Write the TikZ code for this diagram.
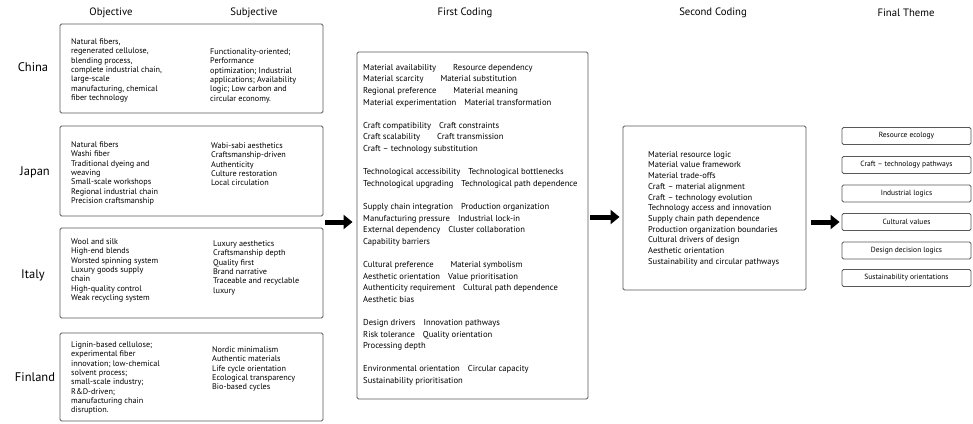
\documentclass[tikz,border=0pt]{standalone}
\usepackage{fontspec}
\setmainfont{PT Sans}
\usetikzlibrary{arrows.meta}
\tikzset{
  box/.style={draw=black!65, line width=0.9pt, rounded corners=1.5pt, inner sep=0pt},
  cell/.style={anchor=north west, align=left, inner sep=0pt, text=black, font=\fontsize{8.2}{9.3}\selectfont},
  code/.style={cell, font=\fontsize{8.6}{11.6}\selectfont},
  head/.style={text=black, font=\fontsize{10.7}{12}\selectfont},
  country/.style={text=black, font=\fontsize{12.5}{14}\selectfont},
  theme/.style={box, minimum width=129pt, minimum height=17pt, font=\fontsize{7.5}{8}\selectfont},
  fat/.style={-{Triangle[length=9pt,width=14pt]}, line width=5pt},
}
\newcommand{\gapA}{\hspace{8pt}}
\newcommand{\gapB}{\hspace{17pt}}
\begin{document}
\begin{tikzpicture}[x=1pt, y=-1pt]
  \useasboundingbox (0,0) rectangle (973,423);

  % headers
  \node[head] (hobj) at (111, 13) {Objective};
  \node[head] (hsubj) at (254, 13) {Subjective};
  \node[head] (hfirst) at (465, 13) {First Coding};
  \node[head] (hsecond) at (713, 13) {Second Coding};
  \node[head] (htheme) at (906, 13) {Final Theme};

  % countries
  \node[country] (lchina) at (33, 67) {China};
  \node[country] (ljapan) at (35, 172) {Japan};
  \node[country] (litaly) at (33, 275) {Italy};
  \node[country] (lfinland) at (35, 377) {Finland};

  \node[box, minimum width=263pt, minimum height=89pt] (china) at (191.5, 68.5) {};
  \node[box, minimum width=263pt, minimum height=90pt] (japan) at (191.5, 171) {};
  \node[box, minimum width=263pt, minimum height=90pt] (italy) at (191.5, 273) {};
  \node[box, minimum width=263pt, minimum height=88pt] (finland) at (191.5, 377) {};

  % objective / subjective
  \node[cell] (chinaobj) at (71, 38.5) {Natural fibers,\\regenerated cellulose,\\blending process,\\complete industrial chain,\\large-scale\\manufacturing, chemical\\fiber technology};
  \node[cell] (chinasubj) at (210, 48.5) {Functionality-oriented;\\Performance\\optimization; Industrial\\applications; Availability\\logic; Low carbon and\\circular economy.};
  \node[cell] (japanobj) at (71, 141.5) {Natural fibers\\Washi fiber\\Traditional dyeing and\\weaving\\Small-scale workshops\\Regional industrial chain\\Precision craftsmanship};
  \node[cell] (japansubj) at (211, 142.5) {Wabi-sabi aesthetics\\Craftsmanship-driven\\Authenticity\\Culture restoration\\Local circulation};
  \node[cell] (italyobj) at (71, 238.5) {Wool and silk\\High-end blends\\Worsted spinning system\\Luxury goods supply\\chain\\High-quality control\\Weak recycling system};
  \node[cell] (italysubj) at (213, 240.5) {Luxury aesthetics\\Craftsmanship depth\\Quality first\\Brand narrative\\Traceable and recyclable\\luxury};
  \node[cell] (finlandobj) at (71, 341.5) {Lignin-based cellulose;\\experimental fiber\\innovation; low-chemical\\solvent process;\\small-scale industry;\\R\&D-driven;\\manufacturing chain\\disruption.};
  \node[cell] (finlandsubj) at (212, 346.5) {Nordic minimalism\\Authentic materials\\Life cycle orientation\\Ecological transparency\\Bio-based cycles};

  % first coding
  \node[box, minimum width=231pt, minimum height=347pt] (first) at (472.5, 225.5) {};
  \node[code] (firsttext) at (363, 64) {%
    Material availability\gapB Resource dependency\\
    Material scarcity\gapB Material substitution\\
    Regional preference\gapB Material meaning\\
    Material experimentation\gapA Material transformation\\[11.6pt]
    Craft compatibility\gapA Craft constraints\\
    Craft scalability\gapB Craft transmission\\
    Craft -- technology substitution\\[11.6pt]
    Technological accessibility\gapA Technological bottlenecks\\
    Technological upgrading\gapA Technological path dependence\\[11.6pt]
    Supply chain integration\gapA Production organization\\
    Manufacturing pressure\gapA Industrial lock-in\\
    External dependency\gapA Cluster collaboration\\
    Capability barriers\\[11.6pt]
    Cultural preference\gapB Material symbolism\\
    Aesthetic orientation\gapA Value prioritisation\\
    Authenticity requirement\gapA Cultural path dependence\\
    Aesthetic bias\\[11.6pt]
    Design drivers\gapA Innovation pathways\\
    Risk tolerance\gapA Quality orientation\\
    Processing depth\\[11.6pt]
    Environmental orientation\gapA Circular capacity\\
    Sustainability prioritisation};

  % second coding
  \node[box, minimum width=183pt, minimum height=164pt] (second) at (714.5, 208) {};
  \node[code, font=\fontsize{8.5}{10.7}\selectfont] (secondtext) at (648, 151) {%
    Material resource logic\\Material value framework\\Material trade-offs\\
    Craft -- material alignment\\Craft -- technology evolution\\
    Technology access and innovation\\Supply chain path dependence\\
    Production organization boundaries\\Cultural drivers of design\\
    Aesthetic orientation\\Sustainability and circular pathways};

  % final themes
  \node[theme] (theme1) at (906.5, 136) {Resource ecology};
  \node[theme] (theme2) at (906.5, 165) {Craft -- technology pathways};
  \node[theme] (theme3) at (906.5, 193.5) {Industrial logics};
  \node[theme] (theme4) at (906.5, 222) {Cultural values};
  \node[theme] (theme5) at (906.5, 250.5) {Design decision logics};
  \node[theme] (theme6) at (906.5, 278) {Sustainability orientations};

  % arrows
  \coordinate (gather) at (325, 222);
  \coordinate (pass) at (590, 217);
  \draw[fat, shorten >=4pt] (gather) -- (first.west |- gather);
  \draw[fat, shorten >=3pt] (pass) -- (second.west |- pass);
  \draw[fat, shorten <=5pt, shorten >=2pt] (second.east |- theme4) -- (theme4.west);
\end{tikzpicture}
\end{document}
